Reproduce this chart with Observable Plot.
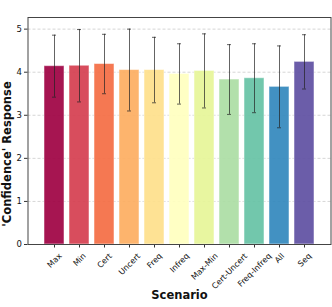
<!DOCTYPE html>
<html>
<head>
<meta charset="utf-8">
<script src="https://cdn.jsdelivr.net/npm/d3@7"></script>
<script src="https://cdn.jsdelivr.net/npm/@observablehq/plot@0.6"></script>
<style>
  html, body { margin: 0; padding: 0; background: white; }
  svg { display: block; }
</style>
</head>
<body>
<div id="chart"></div>
<script>
const scenarios = ["Max", "Min", "Cert", "Uncert", "Freq", "Infreq", "Max-Min", "Cert-Uncert", "Freq-Infreq", "All", "Seq"];
const means = [4.14, 4.15, 4.19, 4.05, 4.05, 3.96, 4.03, 3.83, 3.86, 3.66, 4.24];
const errors = [0.72, 0.84, 0.69, 0.95, 0.76, 0.70, 0.86, 0.81, 0.80, 0.95, 0.63];
const colors = ["#9e0142", "#d53e4f", "#f46d43", "#fdae61", "#fee08b", "#ffffbf", "#e6f598", "#abdda4", "#66c2a5", "#3288bd", "#5e4fa2"];
const yTicks = [0, 1, 2, 3, 4, 5];
const xLabel = "Scenario";
const yLabel = "'Confidence' Response";

const data = scenarios.map((s, i) => ({scenario: s, mean: means[i], lo: means[i] - errors[i], hi: means[i] + errors[i]}));
const font = "DejaVu Sans, sans-serif";

const plot = Plot.plot({
  width: 332,
  height: 307,
  marginLeft: 27.5,
  marginRight: 1.5,
  marginTop: 17,
  marginBottom: 63,
  style: {fontFamily: font, background: "white"},
  x: {type: "band", domain: scenarios, paddingInner: 0.2, paddingOuter: 0.53, axis: null},
  y: {domain: [0, 5.27], axis: null},
  color: {domain: scenarios, range: colors},
  marks: [
    Plot.ruleY(yTicks.slice(1), {stroke: "#cccccc", strokeWidth: 0.8, strokeDasharray: "3,2"}),
    Plot.barY(data, {x: "scenario", y: "mean", fill: "scenario", fillOpacity: 0.92, stroke: "white", strokeOpacity: 0.5, strokeWidth: 1}),
    Plot.ruleX(data, {x: "scenario", y1: "lo", y2: "hi", stroke: "#222", strokeOpacity: 0.7, strokeWidth: 1}),
    Plot.tickY(data, {x: "scenario", y: "lo", stroke: "#222", strokeOpacity: 0.7, strokeWidth: 1, insetLeft: 8, insetRight: 8}),
    Plot.tickY(data, {x: "scenario", y: "hi", stroke: "#222", strokeOpacity: 0.7, strokeWidth: 1, insetLeft: 8, insetRight: 8}),
    Plot.axisY(yTicks, {tickSize: 3.5, tickPadding: 2.5, fontSize: 8.5, label: null, stroke: "#333", color: "#111"}),
    Plot.axisX({tickSize: 3.5, tickFormat: () => "", label: null, stroke: "#333"}),
    Plot.text(scenarios, {x: d => d, frameAnchor: "bottom", dy: 8, rotate: -45, textAnchor: "end", lineAnchor: "top", fontSize: 8, fill: "#111", className: "xlab"}),
    Plot.frame({stroke: "#444", strokeWidth: 1}),
    Plot.text([yLabel], {frameAnchor: "left", textAnchor: "middle", dx: -21, dy: 23, rotate: -90, fontSize: 11.5, fontWeight: "bold", fill: "#111"}),
    Plot.text([xLabel], {frameAnchor: "bottom", dy: 54, fontSize: 11.5, fontWeight: "bold", fill: "#111"})
  ]
});

document.getElementById("chart").appendChild(plot);

// center each rotated tick label's bounding box horizontally on its tick
const rad = Math.PI / 4;
plot.querySelectorAll(".xlab text").forEach(t => {
  const L = t.getComputedTextLength();
  const h = 8 * 0.75;
  const shift = (L * Math.cos(rad) - h * Math.sin(rad)) / 2;
  const tr = t.getAttribute("transform") || "";
  t.setAttribute("transform", `translate(${shift},0) ` + tr);
});
</script>
</body>
</html>
